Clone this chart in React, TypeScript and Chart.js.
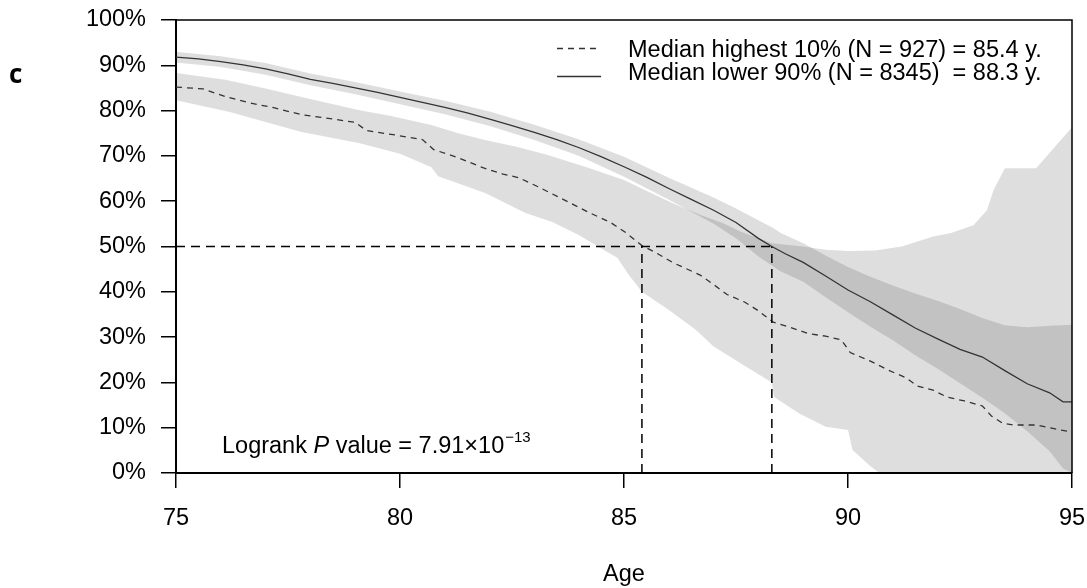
import React, { useEffect, useRef } from 'react';
import { Chart, registerables } from 'chart.js';

Chart.register(...registerables);

const FONT = '"Liberation Sans", Arial, Helvetica, sans-serif';
const FS = 23.5;

// Age axis ticks and survival ticks (percent)
const xMin = 75;
const xMax = 95;
const xStep = 5;
const yStep = 10;
const xTitle = 'Age';

// Medians
const medianHigh = 85.4;
const medianLow = 88.3;

// Kaplan-Meier curve, lower 90% (solid)  [age, survival %]
const solidLine: [number, number][] = [
  [75, 91.8], [75.5, 91.4], [76, 90.8], [76.5, 90.1], [77, 89.2], [77.5, 88.1], [78, 86.9],
  [78.5, 86.0], [79, 85.0], [79.5, 84.0], [80, 82.9], [80.5, 81.8], [81, 80.7], [81.5, 79.5],
  [82, 78.1], [82.5, 76.7], [83, 75.2], [83.5, 73.6], [84, 71.8], [84.5, 69.8], [85, 67.6],
  [85.5, 65.3], [86, 62.8], [86.5, 60.4], [87, 58.0], [87.5, 55.3], [88, 51.8], [88.3, 50.0],
  [88.6, 48.4], [89, 46.5], [89.5, 43.5], [90, 40.4], [90.5, 37.8], [91, 34.9], [91.5, 32.0],
  [92, 29.6], [92.5, 27.3], [93, 25.6], [93.5, 22.6], [94, 19.7], [94.5, 17.7], [94.8, 15.7],
  [95, 15.7],
];
const solidUpper: [number, number][] = [
  [75, 93.0], [76, 92.0], [77, 90.5], [78, 88.2], [79, 86.3], [80, 84.2], [81, 82.2], [82, 79.8],
  [83, 76.9], [84, 73.6], [85, 69.8], [86, 65.2], [87, 60.8], [87.5, 58.4], [88, 55.8],
  [88.33, 54.1], [88.5, 53.0], [89, 50.7], [89.5, 48.0], [90, 45.5], [90.5, 43.3], [91, 41.4],
  [91.5, 39.6], [92, 38.0], [92.5, 36.2], [93, 34.2], [93.5, 32.6], [94, 32.2], [94.5, 32.5],
  [95, 32.7],
];
const solidLower: [number, number][] = [
  [75, 90.6], [76, 89.6], [77, 87.9], [78, 85.6], [79, 83.6], [80, 81.4], [81, 79.2], [82, 76.6],
  [83, 73.5], [84, 70.0], [85, 65.4], [86, 60.3], [87, 55.0], [87.5, 51.8], [88, 47.8],
  [88.5, 44.5], [89, 42.2], [89.5, 38.8], [90, 35.5], [90.5, 32.3], [91, 29.3], [91.5, 26.0],
  [92, 23.0], [92.5, 19.8], [93, 16.6], [93.5, 13.2], [94, 9.2], [94.5, 4.8], [94.8, 1.0],
  [95, 0],
];

// Kaplan-Meier curve, highest 10% (dashed)
const dashedLine: [number, number][] = [
  [75, 85.2], [75.6, 84.8], [76.1, 83.1], [76.6, 81.8], [77.2, 80.6], [77.8, 79.1], [78.4, 78.3],
  [79.0, 77.4], [79.25, 75.6], [79.9, 74.6], [80.5, 73.6], [80.75, 71.4], [81.3, 69.6],
  [81.85, 67.4], [82.3, 66.0], [82.65, 65.2], [83.1, 63.1], [83.6, 60.6], [84.2, 57.6],
  [84.7, 55.3], [85.05, 53.0], [85.4, 50.2], [85.7, 48.7], [86.1, 46.4], [86.7, 43.7],
  [87.0, 41.6], [87.3, 39.4], [87.7, 37.7], [88.0, 35.8], [88.33, 33.3], [88.7, 32.2],
  [89.1, 30.8], [89.5, 30.2], [89.85, 29.4], [90.05, 26.6], [90.5, 24.7], [90.9, 22.7],
  [91.3, 21.0], [91.55, 19.2], [91.9, 18.3], [92.2, 16.8], [92.6, 15.9], [93.0, 14.8],
  [93.2, 12.6], [93.45, 11.0], [93.7, 10.6], [94.2, 10.6], [94.6, 9.8], [95, 9.0],
];
const dashedUpper: [number, number][] = [
  [75, 88.3], [76.1, 86.8], [77, 84.9], [77.8, 83.0], [79.1, 80.1], [79.8, 78.8], [80.7, 76.8],
  [81.3, 75.0], [81.9, 73.5], [82.6, 72.0], [83.3, 70.2], [84.2, 67.4], [85, 64.7], [85.5, 62.3],
  [86.1, 59.5], [86.7, 57.0], [87.2, 55.2], [87.6, 53.3], [88.3, 50.7], [89, 50.0], [89.5, 49.3],
  [90, 49.0], [90.6, 49.1], [91.2, 50.0], [91.9, 52.2], [92.3, 53.0], [92.8, 54.7], [93.1, 58.0],
  [93.25, 62.5], [93.5, 67.3], [94.2, 67.3], [94.75, 73.5], [95, 76.3],
];
const dashedLower: [number, number][] = [
  [75, 82.3], [76.2, 79.7], [77, 77.5], [77.8, 75.3], [79.1, 72.8], [80, 70.5], [80.7, 67.5],
  [80.85, 65.5], [81.9, 61.8], [82.8, 57.4], [83.4, 55.4], [84, 52.5], [84.5, 49.5],
  [84.85, 47.5], [85.1, 43.8], [85.4, 40.0], [86, 36.0], [86.6, 31.6], [87, 27.9], [87.6, 24.2],
  [88.3, 20.0], [88.35, 16.8], [88.9, 13.2], [89.5, 10.2], [90, 9.5], [90.1, 5.1], [90.5, 1.5],
  [90.7, 0], [95, 0],
];

const legendLabels = [
  'Median highest 10% (N = 927) = 85.4 y.',
  'Median lower 90% (N = 8345)  = 88.3 y.',
];

const pts = (a: [number, number][]) => a.map(([x, y]) => ({ x, y }));

const LINE = '#333333';
const BAND = 'rgba(0,0,0,0.13)';

const overlay = {
  id: 'overlay',
  afterDraw(chart: any) {
    const { ctx, chartArea: a } = chart;
    ctx.save();
    // frame top & right
    ctx.strokeStyle = '#000';
    ctx.lineWidth = 1.5;
    ctx.setLineDash([]);
    ctx.beginPath();
    ctx.moveTo(a.left, a.top);
    ctx.lineTo(a.right, a.top);
    ctx.lineTo(a.right, a.bottom);
    ctx.stroke();

    // legend
    ctx.strokeStyle = LINE;
    ctx.lineWidth = 1.3;
    ctx.setLineDash([6, 5]);
    ctx.beginPath();
    ctx.moveTo(557, 48.5);
    ctx.lineTo(601, 48.5);
    ctx.stroke();
    ctx.setLineDash([]);
    ctx.beginPath();
    ctx.moveTo(557, 76.5);
    ctx.lineTo(601, 76.5);
    ctx.stroke();
    ctx.fillStyle = '#000';
    ctx.font = `${FS}px ${FONT}`;
    ctx.textAlign = 'left';
    ctx.textBaseline = 'alphabetic';
    ctx.fillText(legendLabels[0], 628, 57);
    ctx.fillText(legendLabels[1], 628, 80);

    // logrank annotation
    let x = 222;
    const y = 453;
    const t1 = 'Logrank ';
    ctx.fillText(t1, x, y);
    x += ctx.measureText(t1).width;
    ctx.font = `italic ${FS}px ${FONT}`;
    ctx.fillText('P', x, y);
    x += ctx.measureText('P').width;
    ctx.font = `${FS}px ${FONT}`;
    const t2 = ' value = 7.91\u00d710';
    ctx.fillText(t2, x, y);
    x += ctx.measureText(t2).width;
    ctx.font = `15px ${FONT}`;
    ctx.fillText('\u221213', x + 1, y - 11);

    // x-axis title
    ctx.font = `${FS}px ${FONT}`;
    ctx.textAlign = 'center';
    ctx.textBaseline = 'middle';
    ctx.fillText(xTitle, (a.left + a.right) / 2, 575);

    // panel label
    ctx.textAlign = 'left';
    ctx.textBaseline = 'alphabetic';
    ctx.font = 'bold 26px "Open Sans", "DejaVu Sans", sans-serif';
    ctx.fillText('c', 9, 83);
    ctx.restore();
  },
};

const zeroPad = (s: any) => {
  s.paddingTop = 0;
  s.paddingBottom = 0;
  s.paddingLeft = 0;
  s.paddingRight = 0;
};

export default function App() {
  const ref = useRef<HTMLCanvasElement>(null);
  useEffect(() => {
    const base = { pointRadius: 0, tension: 0 };
    const chart = new Chart(ref.current as HTMLCanvasElement, {
      type: 'line',
      data: {
        datasets: [
          { ...base, label: 'Median lower 90%', data: pts(solidLine), borderColor: LINE, borderWidth: 1.3, fill: false, order: 1 },
          { ...base, label: 'Median highest 10%', data: pts(dashedLine), borderColor: LINE, borderWidth: 1.3, borderDash: [6, 5], fill: false, order: 1 },
          { ...base, label: 'h50', data: [{ x: xMin, y: 50 }, { x: medianLow, y: 50 }], borderColor: '#000', borderWidth: 1.5, borderDash: [9, 6], fill: false, order: 0 },
          { ...base, label: 'vHigh', data: [{ x: medianHigh, y: 0 }, { x: medianHigh, y: 50 }], borderColor: '#000', borderWidth: 1.5, borderDash: [9, 6], fill: false, order: 0 },
          { ...base, label: 'vLow', data: [{ x: medianLow, y: 0 }, { x: medianLow, y: 50 }], borderColor: '#000', borderWidth: 1.5, borderDash: [9, 6], fill: false, order: 0 },
          { ...base, label: 'dU', data: pts(dashedUpper), borderColor: 'rgba(0,0,0,0)', borderWidth: 0, backgroundColor: BAND, fill: '+1', order: 5 },
          { ...base, label: 'dL', data: pts(dashedLower), borderColor: 'rgba(0,0,0,0)', borderWidth: 0, fill: false, order: 5 },
          { ...base, label: 'sU', data: pts(solidUpper), borderColor: 'rgba(0,0,0,0)', borderWidth: 0, backgroundColor: BAND, fill: '+1', order: 5 },
          { ...base, label: 'sL', data: pts(solidLower), borderColor: 'rgba(0,0,0,0)', borderWidth: 0, fill: false, order: 5 },
        ],
      },
      options: {
        animation: false,
        responsive: true,
        maintainAspectRatio: false,
        layout: { padding: { top: 20, right: 15, left: 0, bottom: 0 } },
        plugins: {
          legend: { display: false },
          tooltip: { enabled: false },
          filler: { drawTime: 'beforeDatasetsDraw' },
        } as any,
        scales: {
          x: {
            type: 'linear',
            min: xMin,
            max: xMax,
            ticks: { stepSize: xStep, color: '#000', font: { family: FONT, size: FS }, padding: 16, maxRotation: 0 },
            grid: { drawOnChartArea: false, drawTicks: true, tickLength: 15, color: '#000', lineWidth: 1.5 },
            border: { display: true, color: '#000', width: 2 },
            afterFit: (s: any) => { s.height = 115; zeroPad(s); },
          },
          y: {
            type: 'linear',
            min: 0,
            max: 100,
            ticks: { stepSize: yStep, color: '#000', font: { family: FONT, size: FS }, padding: 15, callback: (v: any) => `${v}%` },
            grid: { drawOnChartArea: false, drawTicks: true, tickLength: 15, color: '#000', lineWidth: 1.5 },
            border: { display: true, color: '#000', width: 2 },
            afterFit: (s: any) => { s.width = 176; zeroPad(s); },
          },
        },
      },
      plugins: [overlay],
    });
    return () => chart.destroy();
  }, []);
  return (
    <div style={{ position: 'absolute', left: 0, top: 0, width: 1087, height: 588, background: '#fff' }}>
      <canvas ref={ref} />
    </div>
  );
}
